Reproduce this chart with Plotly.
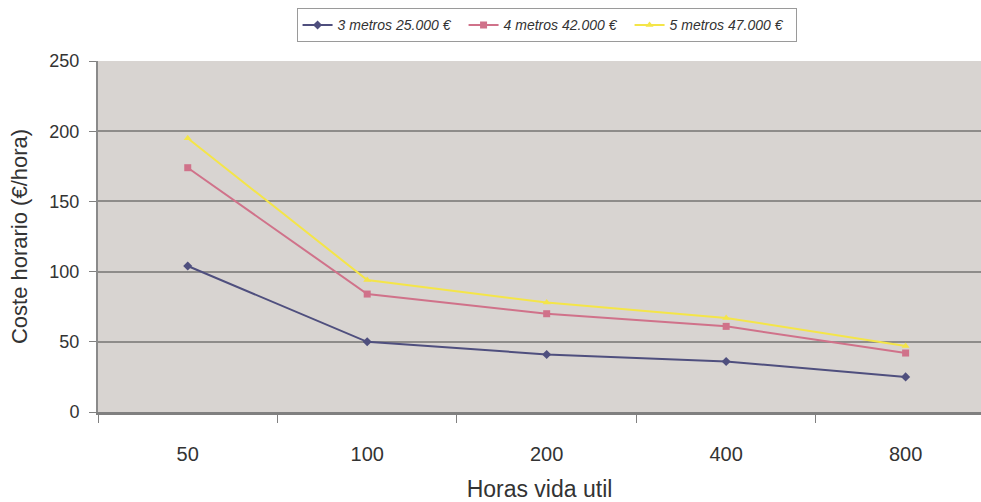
import plotly.graph_objects as go

# Hours of useful life (categories) and hourly cost per machine size
horas = ["50", "100", "200", "400", "800"]
coste_3m = [104, 50, 41, 36, 25]
coste_4m = [174, 84, 70, 61, 42]
coste_5m = [195, 94, 78, 67, 47]

series = [
    ("3 metros 25.000 €", coste_3m, "#4f4f7e", "diamond", 7),
    ("4 metros 42.000 €", coste_4m, "#d0728a", "square", 7),
    ("5 metros 47.000 €", coste_5m, "#f4e548", "triangle-up", 7),
]

fig = go.Figure()
for name, vals, color, symbol, msize in series:
    fig.add_trace(go.Scatter(
        x=horas, y=vals, name=name, mode="lines+markers",
        line=dict(color=color, width=2),
        marker=dict(symbol=symbol, size=msize, color=color),
    ))

font_family = "Liberation Sans, Arial, sans-serif"

fig.update_layout(
    width=981, height=502,
    margin=dict(l=98, r=0, t=61, b=90),
    paper_bgcolor="white",
    plot_bgcolor="#d8d4d1",
    font=dict(family=font_family, color="#333333", size=18),
    showlegend=True,
    legend=dict(
        orientation="h",
        x=0.508, xanchor="center",
        y=1.15, yanchor="top",
        bgcolor="white",
        bordercolor="#9a9a9a", borderwidth=1,
        font=dict(family=font_family, size=14, style="italic", color="#333333"),
        itemwidth=30,
        entrywidth=121,
        tracegroupgap=0,
    ),
    xaxis=dict(
        type="category",
        range=[-0.5, 4.42],
        showgrid=False,
        tickson="boundaries",
        ticks="outside", ticklen=8, tickcolor="#808080", tickwidth=1,
        showline=True, linecolor="#808080", linewidth=3,
        ticklabelstandoff=22,
        tickfont=dict(size=20),
        title=dict(text="Horas vida util", font=dict(size=23), standoff=20),
        zeroline=False,
    ),
    yaxis=dict(
        range=[0, 250], dtick=50,
        showgrid=True, gridcolor="#8e8c8a", gridwidth=1.5,
        ticks="outside", ticklen=7, tickcolor="#808080",
        showline=True, linecolor="#8a8a8a", linewidth=2,
        ticklabelstandoff=6,
        tickfont=dict(size=18),
        title=dict(text="Coste horario (€/hora)", font=dict(size=22), standoff=16),
        zeroline=False,
    ),
)

fig.write_html("out.html")
